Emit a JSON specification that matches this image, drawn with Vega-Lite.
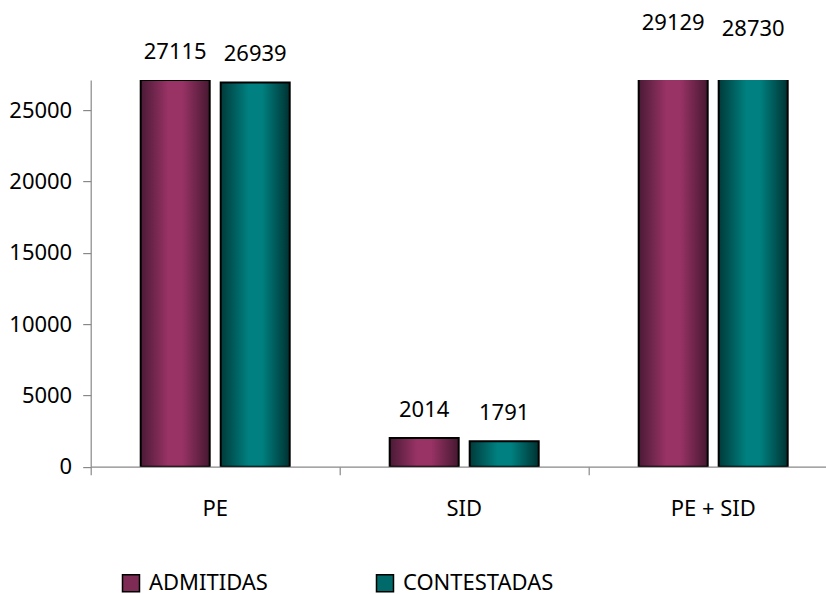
{
  "$schema": "https://vega.github.io/schema/vega-lite/v6.json",
  "width": 747,
  "height": 386.6,
  "autosize": {"type": "none"},
  "padding": {"left": 90.7, "top": 80.1, "right": 0, "bottom": 130},
  "background": "white",
  "config": {
    "view": {"stroke": null},
    "font": "Noto Sans",
    "axis": {"labelFont": "Noto Sans", "labelFontSize": 22, "labelColor": "black", "domainColor": "#888", "tickColor": "#888", "grid": false, "title": null, "tickSize": 8}
  },
  "data": {
    "values": [
      {"grupo": "PE", "serie": "ADMITIDAS", "valor": 27115},
      {"grupo": "PE", "serie": "CONTESTADAS", "valor": 26939},
      {"grupo": "SID", "serie": "ADMITIDAS", "valor": 2014},
      {"grupo": "SID", "serie": "CONTESTADAS", "valor": 1791},
      {"grupo": "PE + SID", "serie": "ADMITIDAS", "valor": 29129},
      {"grupo": "PE + SID", "serie": "CONTESTADAS", "valor": 28730}
    ]
  },
  "encoding": {
    "x": {"field": "grupo", "type": "nominal", "sort": ["PE", "SID", "PE + SID"],
      "scale": {"paddingInner": 0, "paddingOuter": 0},
      "axis": {"labelAngle": 0, "labelPadding": 24, "bandPosition": 0, "domainWidth": 1.2, "tickWidth": 1.2}},
    "xOffset": {"field": "serie", "type": "nominal", "scale": {"paddingInner": 0.1375, "paddingOuter": 0.625}},
    "y": {"field": "valor", "type": "quantitative",
      "scale": {"domain": [0, 27100], "nice": false, "zero": true},
      "axis": {"values": [0, 5000, 10000, 15000, 20000, 25000], "format": "d", "labelPadding": 11, "domainWidth": 1.2, "tickWidth": 1.2}}
  },
  "layer": [
    {
      "mark": {"type": "bar", "clip": true, "stroke": "black", "strokeWidth": 2},
      "encoding": {
        "fill": {
          "condition": {"test": "datum.serie === 'ADMITIDAS'",
            "value": {"gradient": "linear", "x1": 0, "y1": 0, "x2": 1, "y2": 0, "stops": [
                {"offset": 0, "color": "#4a1a35"}, {"offset": 0.4, "color": "#993366"}, {"offset": 0.6, "color": "#993366"}, {"offset": 1, "color": "#461830"}]}},
          "value": {"gradient": "linear", "x1": 0, "y1": 0, "x2": 1, "y2": 0, "stops": [
                {"offset": 0, "color": "#003a3a"}, {"offset": 0.4, "color": "#008080"}, {"offset": 0.6, "color": "#008080"}, {"offset": 1, "color": "#003232"}]}
        }
      }
    },
    {
      "mark": {"type": "point", "shape": "square", "filled": true, "opacity": 0, "clip": true},
      "encoding": {
        "color": {"field": "serie", "type": "nominal",
          "scale": {"domain": ["ADMITIDAS", "CONTESTADAS"], "range": ["#7e2b56", "#006969"]},
          "legend": {"orient": "none", "legendX": 29.3, "legendY": 492, "direction": "horizontal", "title": null,
            "padding": 0, "columnPadding": 105, "symbolType": "square", "symbolSize": 289,
            "symbolStrokeColor": "black", "symbolStrokeWidth": 1.5, "symbolOpacity": 1, "labelFont": "Noto Sans",
            "labelFontSize": 22, "labelColor": "black", "labelOffset": 7, "labelLimit": 300}
        }
      }
    },
    {
      "mark": {"type": "text", "clip": false, "dy": -28, "baseline": "middle", "font": "Noto Sans", "fontSize": 22, "color": "black"},
      "encoding": {"text": {"field": "valor", "type": "quantitative", "format": "d"}}
    }
  ]
}
